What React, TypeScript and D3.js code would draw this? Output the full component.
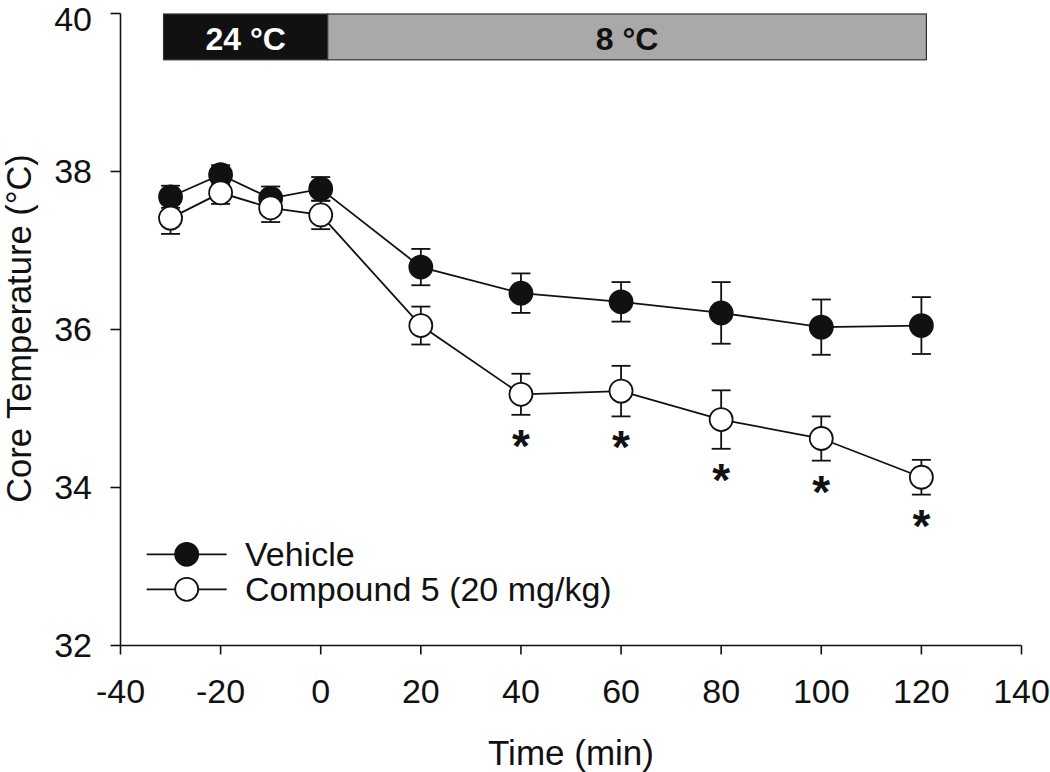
import React from "react";
import * as d3 from "d3";

const times = [-30, -20, -10, 0, 20, 40, 60, 80, 100, 120];
const vehicle = [37.68, 37.96, 37.66, 37.78, 36.79, 36.46, 36.35, 36.21, 36.03, 36.05];
const vehicleErr = [0.14, 0.12, 0.15, 0.15, 0.23, 0.25, 0.25, 0.39, 0.35, 0.36];
const compound = [37.41, 37.73, 37.54, 37.45, 36.05, 35.18, 35.22, 34.86, 34.62, 34.13];
const compoundErr = [0.2, 0.14, 0.18, 0.18, 0.24, 0.26, 0.32, 0.37, 0.28, 0.22];
const significant = [false, false, false, false, false, true, true, true, true, true];
const xTicks = [-40, -20, 0, 20, 40, 60, 80, 100, 120, 140];
const yTicks = [32, 34, 36, 38, 40];
const phases = [
  { label: "24 °C", start: -31.4, end: 1.4 },
  { label: "8 °C", start: 1.4, end: 121 },
];
const seriesNames = ["Vehicle", "Compound 5 (20 mg/kg)"];

const FONT = "'Liberation Sans', Arial, sans-serif";

export default function App() {
  const x = d3.scaleLinear().domain([-40, 140]).range([120.5, 1021.5]);
  const y = d3.scaleLinear().domain([32, 40]).range([645.5, 13.5]);
  const line = d3
    .line<[number, number]>()
    .x((d) => x(d[0]))
    .y((d) => y(d[1]));

  const series = [
    { vals: vehicle, errs: vehicleErr, fill: "#111" },
    { vals: compound, errs: compoundErr, fill: "#fff" },
  ];
  const r = 11.5;
  const cap = 9.5;

  return (
    <svg
      width={1050}
      height={772}
      style={{ position: "absolute", left: 0, top: 0, background: "#fff" }}
      fontFamily={FONT}
    >
      {/* phase bar */}
      {phases.map((p, i) => (
        <g key={p.label}>
          <rect
            x={x(p.start)}
            y={y(40) + 0.5}
            width={x(p.end) - x(p.start)}
            height={y(39.42) - y(40)}
            fill={i === 0 ? "#111" : "#a9a9a9"}
            stroke="#333"
            strokeWidth={1.2}
          />
          <text
            x={(x(p.start) + x(p.end)) / 2}
            y={y(40) + 36}
            textAnchor="middle"
            fontWeight="bold"
            fontSize={32}
            fill={i === 0 ? "#fff" : "#111"}
          >
            {p.label}
          </text>
        </g>
      ))}

      {/* axes */}
      <line x1={x(-40)} x2={x(-40)} y1={y(40)} y2={y(32)} stroke="#111" strokeWidth={1.6} />
      <line x1={x(-40)} x2={x(140)} y1={y(32)} y2={y(32)} stroke="#111" strokeWidth={1.6} />
      {yTicks.map((t) => (
        <g key={t}>
          <line x1={x(-40) - 10} x2={x(-40)} y1={y(t)} y2={y(t)} stroke="#111" strokeWidth={1.6} />
          <text x={92} y={t === 40 ? 31 : y(t) + 11} textAnchor="end" fontSize={34} fill="#111">
            {t}
          </text>
        </g>
      ))}
      {xTicks.map((t) => (
        <g key={t}>
          <line x1={x(t)} x2={x(t)} y1={y(32)} y2={y(32) + 9} stroke="#111" strokeWidth={1.6} />
          <text x={x(t)} y={703} textAnchor="middle" fontSize={34} fill="#111">
            {t}
          </text>
        </g>
      ))}
      <text x={(x(-40) + x(140)) / 2} y={765} textAnchor="middle" fontSize={35} fill="#111">
        Time (min)
      </text>
      <text
        transform={`translate(31, 328.5) rotate(-90)`}
        textAnchor="middle"
        fontSize={34.5}
        fill="#111"
      >
        Core Temperature (°C)
      </text>

      {/* series */}
      {series.map((s, si) => (
        <g key={si}>
          {times.map((t, i) => (
            <g key={t} stroke="#111" strokeWidth={1.8}>
              <line x1={x(t)} x2={x(t)} y1={y(s.vals[i] - s.errs[i])} y2={y(s.vals[i] + s.errs[i])} />
              <line x1={x(t) - cap} x2={x(t) + cap} y1={y(s.vals[i] + s.errs[i])} y2={y(s.vals[i] + s.errs[i])} />
              <line x1={x(t) - cap} x2={x(t) + cap} y1={y(s.vals[i] - s.errs[i])} y2={y(s.vals[i] - s.errs[i])} />
            </g>
          ))}
          <path
            d={line(times.map((t, i) => [t, s.vals[i]]) as [number, number][]) || ""}
            fill="none"
            stroke="#111"
            strokeWidth={1.8}
          />
          {times.map((t, i) => (
            <circle key={t} cx={x(t)} cy={y(s.vals[i])} r={r} fill={s.fill} stroke="#111" strokeWidth={1.8} />
          ))}
        </g>
      ))}

      {/* significance */}
      {times.map((t, i) =>
        significant[i] ? (
          <text
            key={t}
            x={x(t)}
            y={y(compound[i] - compoundErr[i]) + 47}
            textAnchor="middle"
            fontWeight="bold"
            fontSize={46}
            fill="#111"
          >
            *
          </text>
        ) : null
      )}

      {/* legend */}
      {seriesNames.map((n, i) => {
        const ly = 554.3 + i * 35;
        return (
          <g key={n}>
            <line x1={146.7} x2={226.7} y1={ly} y2={ly} stroke="#111" strokeWidth={1.8} />
            <circle cx={186.7} cy={ly} r={r} fill={series[i].fill} stroke="#111" strokeWidth={1.8} />
            <text x={245} y={ly + 12} fontSize={34} fill="#111">
              {n}
            </text>
          </g>
        );
      })}
    </svg>
  );
}
